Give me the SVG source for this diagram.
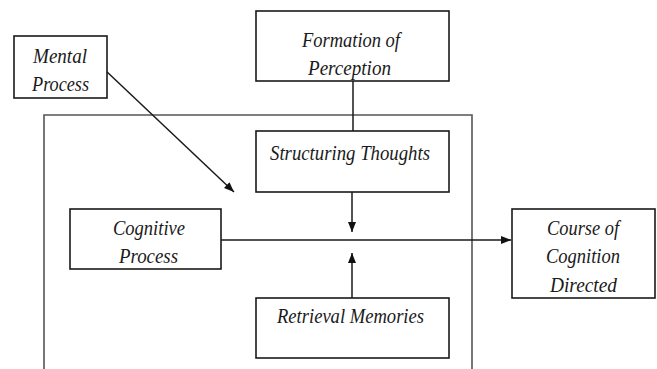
<svg xmlns="http://www.w3.org/2000/svg" width="657" height="369" viewBox="0 0 657 369">
<style>
.box{fill:#fff;stroke:#1a1a1a;stroke-width:1.6}
.lbl{font-family:"Liberation Serif","Times New Roman",serif;font-style:italic;font-size:20.5px;fill:#1a1a1a;text-anchor:middle}
.con{stroke:#1a1a1a;stroke-width:1.5;fill:none}
</style>
<defs>
<marker id="ah" markerWidth="10" markerHeight="8" refX="10" refY="4" orient="auto" markerUnits="userSpaceOnUse">
<path d="M0,0 L10,4 L0,8 Z" fill="#111"/>
</marker>
</defs>
<rect width="657" height="369" fill="#fff"/>
<g id="frame"><path d="M44,369 V115 H472 V369" fill="none" stroke="#555" stroke-width="1.6"/></g>
<g id="connectors">
<line class="con" x1="105" y1="70" x2="234" y2="192" marker-end="url(#ah)"/>
<line class="con" x1="353" y1="81" x2="353" y2="131"/>
<line class="con" x1="352" y1="192" x2="352" y2="232" marker-end="url(#ah)"/>
<line class="con" x1="352" y1="298" x2="352" y2="253" marker-end="url(#ah)"/>
<line class="con" x1="221" y1="240" x2="511" y2="240" marker-end="url(#ah)"/>
</g>
<g id="mental"><rect class="box" x="14" y="36" width="93" height="62"/><text class="lbl" x="60" y="63" textLength="54" lengthAdjust="spacingAndGlyphs">Mental</text><text class="lbl" x="60.5" y="91" textLength="57" lengthAdjust="spacingAndGlyphs">Process</text></g>
<g id="formation"><rect class="box" x="256" y="11" width="193" height="70"/><text class="lbl" x="351" y="47" textLength="98" lengthAdjust="spacingAndGlyphs">Formation of</text><text class="lbl" x="349.5" y="75" textLength="83" lengthAdjust="spacingAndGlyphs">Perception</text></g>
<g id="structuring"><rect class="box" x="256" y="131" width="193" height="61"/><text class="lbl" x="350" y="160" textLength="160" lengthAdjust="spacingAndGlyphs">Structuring Thoughts</text></g>
<g id="cognitive"><rect class="box" x="70" y="209" width="151" height="60"/><text class="lbl" x="149" y="235" textLength="72" lengthAdjust="spacingAndGlyphs">Cognitive</text><text class="lbl" x="148.5" y="263" textLength="59" lengthAdjust="spacingAndGlyphs">Process</text></g>
<g id="retrieval"><rect class="box" x="256" y="298" width="193" height="60"/><text class="lbl" x="350.5" y="323" textLength="147" lengthAdjust="spacingAndGlyphs">Retrieval Memories</text></g>
<g id="course"><rect class="box" x="512" y="209" width="143" height="89"/><text class="lbl" x="583" y="235" textLength="72" lengthAdjust="spacingAndGlyphs">Course of</text><text class="lbl" x="583" y="263" textLength="74" lengthAdjust="spacingAndGlyphs">Cognition</text><text class="lbl" x="583.5" y="292" textLength="67" lengthAdjust="spacingAndGlyphs">Directed</text></g>
</svg>
